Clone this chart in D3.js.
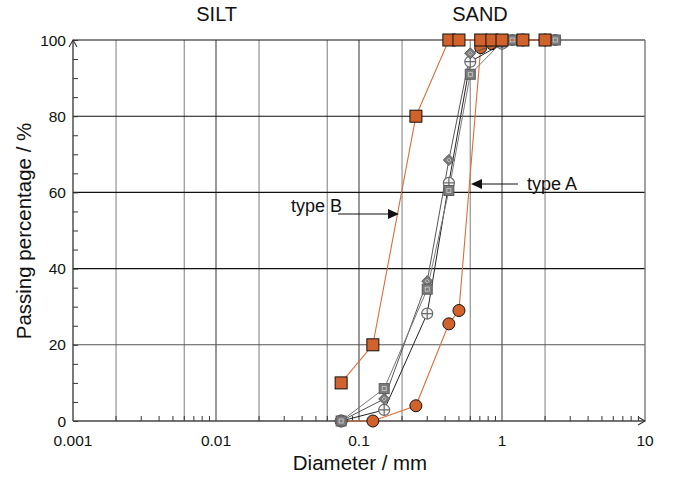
<!DOCTYPE html>
<html lang="en">
<head>
<meta charset="UTF-8">
<title>Grain size distribution</title>
<script src="https://d3js.org/d3.v7.min.js"></script>
<style>
  body { margin: 0; background: #fff; }
  text { font-family: "Liberation Sans", Arial, sans-serif; fill: #111; }
</style>
</head>
<body>
<script>
  const width = 676
  const height = 479

  // sieve sizes (mm) and passing percentages
  const typeBSize = [0.075, 0.125, 0.25, 0.425, 0.5, 0.71, 0.85, 1.0, 1.4, 2.0]
  const typeBPass = [10, 20, 80, 100, 100, 100, 100, 100, 100, 100]
  const typeASize = [0.075, 0.125, 0.25, 0.425, 0.5, 0.71, 0.85, 1.0, 1.4, 2.0]
  const typeAPass = [0, 0, 4, 25.5, 29, 98, 99, 99.5, 100, 100]
  const graySize = [0.075, 0.15, 0.3, 0.425, 0.6, 1.0, 1.18, 2.36]
  const graySquarePass = [0, 8.5, 34.6, 60.5, 91, 99.5, 100, 100]
  const grayDiamondPass = [0, 5.8, 36.7, 68.5, 96.5, 99.3, 100, 100]
  const grayCrossPass = [0, 2.9, 28.2, 62.5, 94.3, 99, 100, 100]

  const xTickValues = [0.001, 0.01, 0.1, 1, 10]
  const xTickLabels = ['0.001', '0.01', '0.1', '1', '10']
  const yTickValues = [0, 20, 40, 60, 80, 100]
  const minorGrid = [0.002, 0.006, 0.02, 0.06, 0.2, 0.6, 2]
  const majorGrid = [0.01, 0.1, 1]

  const x = d3.scaleLog().domain([0.001, 10]).range([73, 645])
  const y = d3.scaleLinear().domain([0, 100]).range([421, 40])

  const svg = d3.select('body').append('svg')
    .attr('width', width)
    .attr('height', height)

  // grid
  svg.selectAll('.vminor').data(minorGrid).enter().append('line')
    .attr('x1', d => x(d)).attr('x2', d => x(d))
    .attr('y1', y(0)).attr('y2', y(100))
    .attr('stroke', '#9a9a9a').attr('stroke-width', 1.3)
  svg.selectAll('.vmajor').data(majorGrid).enter().append('line')
    .attr('x1', d => x(d)).attr('x2', d => x(d))
    .attr('y1', y(0)).attr('y2', y(100))
    .attr('stroke', '#444').attr('stroke-width', 1.1)
  svg.selectAll('.hgrid').data([20, 40, 60, 80, 100]).enter().append('line')
    .attr('x1', x(0.001)).attr('x2', x(10))
    .attr('y1', d => y(d)).attr('y2', d => y(d))
    .attr('stroke', d => d === 20 ? '#555' : '#111').attr('stroke-width', 1.1)
  // right border
  svg.append('line')
    .attr('x1', x(10)).attr('x2', x(10)).attr('y1', y(0)).attr('y2', y(100))
    .attr('stroke', '#777').attr('stroke-width', 1.4)

  // y axis
  const yAxis = d3.axisRight(y).tickValues(d3.range(0, 101, 5)).tickSize(5).tickFormat('')
  const yg = svg.append('g').attr('transform', `translate(${x(0.001)},0)`).call(yAxis)
  yg.select('.domain').remove()
  yg.selectAll('line').attr('stroke', '#333')
  svg.append('line')
    .attr('x1', x(0.001)).attr('x2', x(0.001)).attr('y1', y(0)).attr('y2', y(100))
    .attr('stroke', '#333').attr('stroke-width', 1.3)
  svg.selectAll('.ylab').data(yTickValues).enter().append('text')
    .attr('x', 66).attr('y', d => y(d) + 5.5)
    .attr('text-anchor', 'end').attr('font-size', 15.5)
    .text(d => d)

  // x axis with log minor ticks
  const minorX = []
  for (let e = -3; e < 1; e++) {
    for (let m = 2; m <= 9; m++) minorX.push(m * Math.pow(10, e))
  }
  svg.selectAll('.xminor').data(minorX).enter().append('line')
    .attr('x1', d => x(d)).attr('x2', d => x(d))
    .attr('y1', y(0)).attr('y2', y(0) - 5)
    .attr('stroke', '#333')
  svg.append('line')
    .attr('x1', x(0.001)).attr('x2', x(10)).attr('y1', y(0)).attr('y2', y(0))
    .attr('stroke', '#444').attr('stroke-width', 1.4)
  svg.selectAll('.xlab').data(xTickValues).enter().append('text')
    .attr('x', d => x(d)).attr('y', 446)
    .attr('text-anchor', 'middle').attr('font-size', 15.5)
    .text((d, i) => xTickLabels[i])

  // axis arrows
  svg.append('path')
    .attr('d', `M${x(0.001) - 4},${y(100) + 7} L${x(0.001)},${y(100)} L${x(0.001) + 4},${y(100) + 7}`)
    .attr('fill', 'none').attr('stroke', '#333').attr('stroke-width', 1.1)
  svg.append('path')
    .attr('d', `M${x(10) - 7},${y(0) - 4} L${x(10)},${y(0)} L${x(10) - 7},${y(0) + 4}`)
    .attr('fill', 'none').attr('stroke', '#333').attr('stroke-width', 1.1)

  // titles
  svg.append('text').attr('x', x(0.0101)).attr('y', 21)
    .attr('text-anchor', 'middle').attr('font-size', 20).text('SILT')
  svg.append('text').attr('x', 480).attr('y', 21)
    .attr('text-anchor', 'middle').attr('font-size', 20).text('SAND')
  svg.append('text').attr('x', 360).attr('y', 470)
    .attr('text-anchor', 'middle').attr('font-size', 20.5).text('Diameter / mm')
  svg.append('text')
    .attr('transform', 'translate(31,231) rotate(-90)')
    .attr('text-anchor', 'middle').attr('font-size', 20.5).text('Passing percentage / %')

  const line = d3.line().x(d => x(d[0])).y(d => y(d[1]))
  const zip = (a, b) => a.map((v, i) => [v, b[i]])

  const orangeFill = '#d2622c'
  const orangeLine = '#da6e38'

  // type A (orange circles)
  const aData = zip(typeASize, typeAPass)
  svg.append('path').datum(aData).attr('d', line)
    .attr('fill', 'none').attr('stroke', orangeLine).attr('stroke-width', 1.1)
  svg.selectAll('.circA').data(aData).enter().append('circle')
    .attr('cx', d => x(d[0])).attr('cy', d => y(d[1])).attr('r', 6)
    .attr('fill', orangeFill).attr('stroke', '#111').attr('stroke-width', 1)

  // gray series (drawn so the squares end on top)
  const grays = [
    { pass: grayCrossPass, stroke: '#222', shape: 'cross' },
    { pass: grayDiamondPass, stroke: '#555', shape: 'diamond' },
    { pass: graySquarePass, stroke: '#7a7a7a', shape: 'square' }
  ]
  grays.forEach(s => {
    const data = zip(graySize, s.pass)
    svg.append('path').datum(data).attr('d', line)
      .attr('fill', 'none').attr('stroke', s.stroke).attr('stroke-width', 1)
  })
  grays.forEach(s => {
    const data = zip(graySize, s.pass)
    const g = svg.append('g')
    const pts = g.selectAll('g').data(data).enter().append('g')
      .attr('transform', d => `translate(${x(d[0])},${y(d[1])})`)
    if (s.shape === 'square') {
      pts.append('rect').attr('x', -5).attr('y', -5).attr('width', 10).attr('height', 10)
        .attr('fill', '#7c7c7c').attr('stroke', '#5a5a5a')
      pts.append('rect').attr('x', -2).attr('y', -2).attr('width', 4).attr('height', 4)
        .attr('fill', 'none').attr('stroke', '#cfcfcf').attr('stroke-width', 0.8)
    } else if (s.shape === 'diamond') {
      pts.append('path').attr('d', 'M0,-5.5L5.5,0L0,5.5L-5.5,0Z')
        .attr('fill', '#7c7c7c').attr('stroke', '#5a5a5a')
      pts.append('path').attr('d', 'M0,-2L2,0L0,2L-2,0Z')
        .attr('fill', 'none').attr('stroke', '#cfcfcf').attr('stroke-width', 0.8)
    } else {
      pts.append('circle').attr('r', 5.5)
        .attr('fill', '#f4f4f4').attr('stroke', '#6a6a6a').attr('stroke-width', 1.2)
      pts.append('path').attr('d', 'M-5.5,0H5.5M0,-5.5V5.5')
        .attr('stroke', '#6a6a6a').attr('stroke-width', 1.2)
    }
  })

  // type B (orange squares)
  const bData = zip(typeBSize, typeBPass)
  svg.append('path').datum(bData).attr('d', line)
    .attr('fill', 'none').attr('stroke', orangeLine).attr('stroke-width', 1.1)
  svg.selectAll('.sqB').data(bData).enter().append('rect')
    .attr('x', d => x(d[0]) - 6).attr('y', d => y(d[1]) - 6)
    .attr('width', 12).attr('height', 12)
    .attr('fill', orangeFill).attr('stroke', '#111').attr('stroke-width', 1)

  // annotations
  svg.append('text').attr('x', 527).attr('y', 190).attr('font-size', 18).text('type A')
  svg.append('line').attr('x1', 518).attr('x2', 480).attr('y1', 184).attr('y2', 184)
    .attr('stroke', '#111').attr('stroke-width', 1.1)
  svg.append('path').attr('d', 'M471,184L482,179L482,189Z').attr('fill', '#111')

  svg.append('text').attr('x', 291).attr('y', 212).attr('font-size', 18).text('type B')
  svg.append('line').attr('x1', 338).attr('x2', 390).attr('y1', 214).attr('y2', 214)
    .attr('stroke', '#111').attr('stroke-width', 1.1)
  svg.append('path').attr('d', 'M399,214L388,209L388,219Z').attr('fill', '#111')
</script>
</body>
</html>
